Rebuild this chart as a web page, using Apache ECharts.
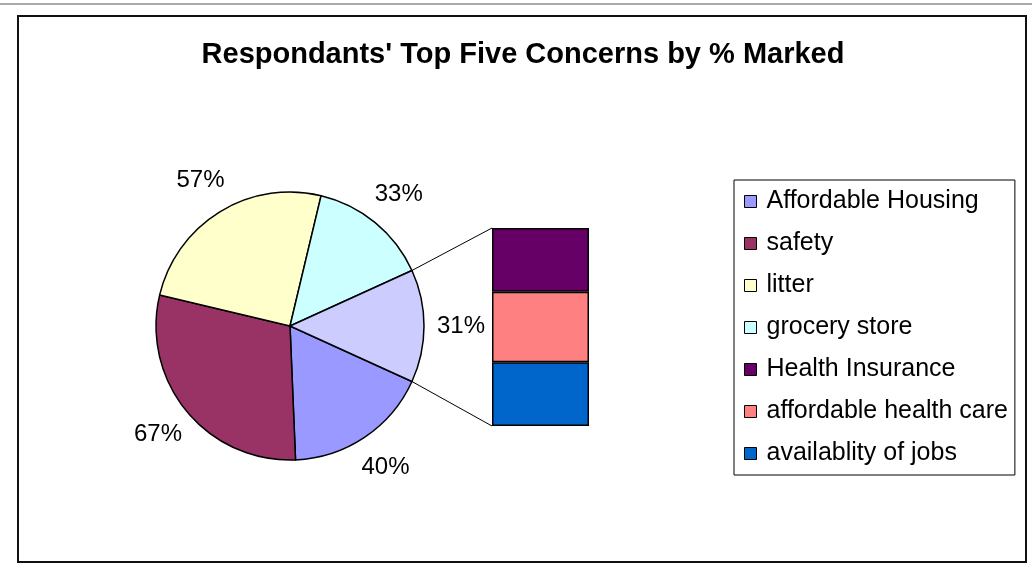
<!DOCTYPE html>
<html>
<head>
<meta charset="utf-8">
<script src="https://cdn.jsdelivr.net/npm/echarts@6/dist/echarts.min.js"></script>
<style>
  html, body { margin: 0; padding: 0; background: #fff; }
  #chart { width: 1032px; height: 568px; }
</style>
</head>
<body>
<div id="chart"></div>
<script>
// pie slices (percent of respondents)
const pieNames = ['Affordable Housing', 'safety', 'litter', 'grocery store'];
const pieValues = [40, 67, 57, 33];
const pieColors = ['#9999FF', '#993366', '#FFFFCC', '#CCFFFF'];
const otherColor = '#CCCCFF';

// broken-out bar (bottom to top)
const barNames = ['availablity of jobs', 'affordable health care', 'Health Insurance'];
const barValues = [10, 11, 10];
const barColors = ['#0066CC', '#FF8080', '#660066'];

const legendOrder = ['Affordable Housing', 'safety', 'litter', 'grocery store',
  'Health Insurance', 'affordable health care', 'availablity of jobs'];

const FONT = 'Arial, "Liberation Sans", sans-serif';
const center = [290, 326];
const radius = 134;
const barBox = { left: 492, top: 228, width: 97, height: 198 };

const otherValue = barValues.reduce((a, b) => a + b, 0);
const total = pieValues.reduce((a, b) => a + b, 0) + otherValue;
const halfOther = otherValue / total * 180;

const pieData = pieNames.map((n, i) => ({
  name: n, value: pieValues[i], itemStyle: { color: pieColors[i] }
}));
pieData.push({ name: 'Other', value: otherValue, itemStyle: { color: otherColor } });

const labelData = pieData.map(d => ({ value: d.value }));

const chart = echarts.init(document.getElementById('chart'));

const option = {
  animation: false,
  backgroundColor: '#fff',
  textStyle: { fontFamily: FONT },
  title: {
    text: "Respondants' Top Five Concerns by % Marked",
    left: 523,
    top: 40,
    textAlign: 'center',
    padding: 0,
    textStyle: { fontFamily: FONT, fontSize: 29, fontWeight: 'bold', color: '#000' }
  },
  legend: {
    orient: 'vertical',
    left: 734,
    top: 180,
    data: legendOrder,
    icon: 'rect',
    itemWidth: 12,
    itemHeight: 12,
    itemGap: 17,
    padding: [9, 7, 9, 10],
    borderColor: '#000',
    borderWidth: 1,
    itemStyle: { borderColor: '#000', borderWidth: 1 },
    selectedMode: false,
    textStyle: { fontFamily: FONT, fontSize: 25, lineHeight: 25, color: '#000', padding: [0, 0, 0, 5] }
  },
  grid: {
    left: barBox.left, top: barBox.top, width: barBox.width, height: barBox.height
  },
  xAxis: { type: 'category', data: ['Other'], show: false },
  yAxis: { type: 'value', min: 0, max: otherValue, show: false },
  series: [
    {
      type: 'pie',
      center: center,
      radius: radius,
      startAngle: -halfOther,
      clockwise: true,
      data: pieData,
      label: { show: false },
      labelLine: { show: false },
      itemStyle: { borderColor: '#000', borderWidth: 1.5 },
      emphasis: { disabled: true }
    },
    {
      type: 'pie',
      center: center,
      radius: [148, 188],
      startAngle: -halfOther,
      clockwise: true,
      silent: true,
      data: labelData,
      itemStyle: { color: 'rgba(0,0,0,0)' },
      label: {
        show: true, position: 'inside', formatter: '{c}%',
        fontFamily: FONT, fontSize: 24, color: '#000'
      },
      labelLine: { show: false },
      emphasis: { disabled: true }
    }
  ].concat(barNames.map((n, i) => ({
    type: 'bar',
    name: n,
    stack: 'other',
    barWidth: '100%',
    data: [barValues[i]],
    itemStyle: { color: barColors[i], borderColor: '#000', borderWidth: 1.5 },
    emphasis: { disabled: true }
  }))),
  graphic: []
};

chart.setOption(option);

// connector lines from the "Other" slice edges to the bar corners
const a = halfOther * Math.PI / 180;
const pTop = [center[0] + radius * Math.cos(a), center[1] - radius * Math.sin(a)];
const pBot = [center[0] + radius * Math.cos(a), center[1] + radius * Math.sin(a)];
const yTop = chart.convertToPixel({ yAxisIndex: 0 }, otherValue);
const yBot = chart.convertToPixel({ yAxisIndex: 0 }, 0);

chart.setOption({
  graphic: [
    { type: 'line', shape: { x1: 0, y1: 4, x2: 1032, y2: 4 }, style: { stroke: '#555', lineWidth: 1 }, silent: true },
    { type: 'rect', shape: { x: 18, y: 16, width: 1008, height: 546 }, style: { fill: 'none', stroke: '#111', lineWidth: 2 }, silent: true },
    { type: 'line', shape: { x1: pTop[0], y1: pTop[1], x2: barBox.left, y2: yTop }, style: { stroke: '#000', lineWidth: 1 }, silent: true },
    { type: 'line', shape: { x1: pBot[0], y1: pBot[1], x2: barBox.left, y2: yBot }, style: { stroke: '#000', lineWidth: 1 }, silent: true }
  ]
});
</script>
</body>
</html>
